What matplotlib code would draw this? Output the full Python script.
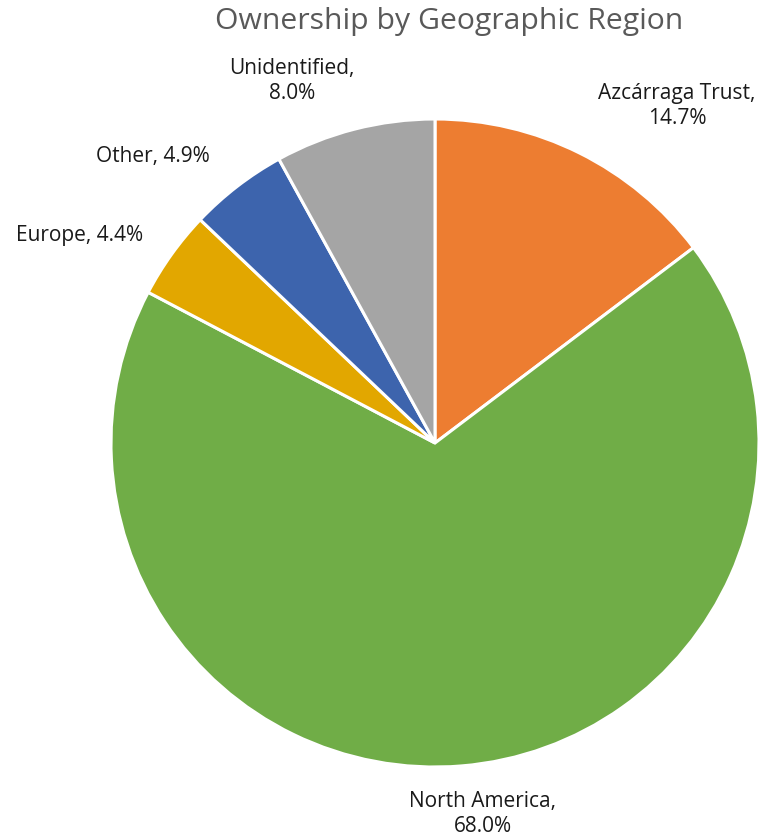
import matplotlib
matplotlib.use("Agg")
import matplotlib.pyplot as plt

categories = ["Azcárraga Trust", "North America", "Europe", "Other", "Unidentified"]
values = [14.7, 68.0, 4.4, 4.9, 8.0]
colors = ["#ED7D31", "#70AD47", "#E2A700", "#3D64AD", "#A5A5A5"]
label_text = ["Azcárraga Trust,\n14.7%", "North America,\n68.0%", "Europe, 4.4%",
              "Other, 4.9%", "Unidentified,\n8.0%"]
label_pos = [(0.747, 1.040), (0.148, -1.146), (-1.096, 0.640), (-0.870, 0.885), (-0.441, 1.118)]

plt.rcParams['font.family'] = ['Open Sans', 'DejaVu Sans']

fig = plt.figure(figsize=(7.59, 8.4), dpi=100)
R = 324
cx, cy = 435, 840 - 443
s = R * 1.1
ax = fig.add_axes([(cx - s) / 759, (cy - s) / 840, 2 * s / 759, 2 * s / 840])
ax.pie(values, colors=colors, startangle=90, counterclock=False,
       wedgeprops=dict(edgecolor="white", linewidth=2.2))
ax.set_xlim(-1.1, 1.1)
ax.set_ylim(-1.1, 1.1)
ax.set_aspect("equal")
for t, (x, y) in zip(label_text, label_pos):
    ax.text(x, y, t, ha="center", va="center", fontsize=15, color="#1a1a1a",
            linespacing=1.25, clip_on=False)

fig.text(449 / 759, 1 - 22 / 840, "Ownership by Geographic Region", ha="center", va="center",
         fontsize=21.7, color="#595959")
fig.savefig("out.png", dpi=100)
